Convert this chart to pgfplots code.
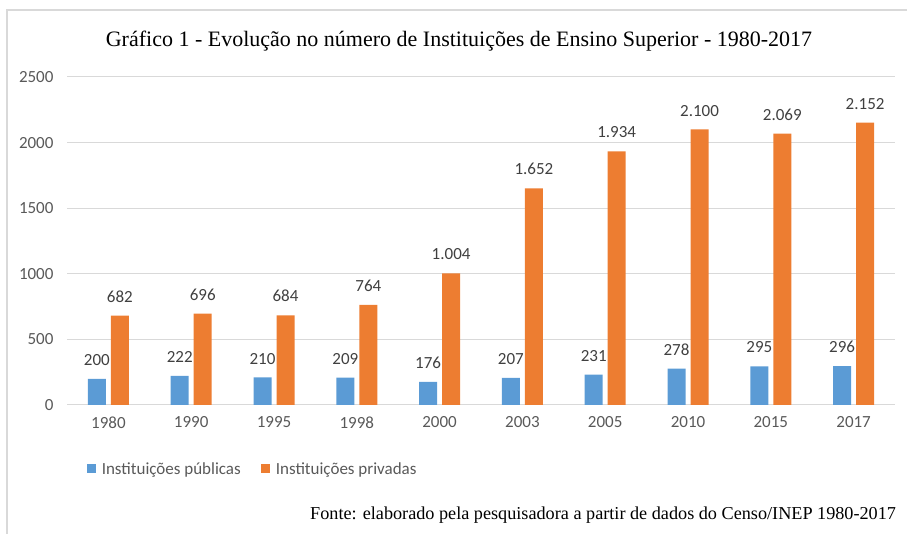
\documentclass[border=0pt]{standalone}
\usepackage{fontspec}
\setmainfont{Liberation Serif}
\newfontfamily\carlito{Carlito}
\usepackage{pgfplots}
\pgfplotsset{compat=1.18}

\definecolor{pubblue}{HTML}{5B9BD5}
\definecolor{privorange}{HTML}{ED7D31}
\definecolor{gridgray}{HTML}{D9D9D9}
\definecolor{ticktext}{HTML}{595959}
\definecolor{labeltext}{HTML}{404040}

\begin{document}
\begin{tikzpicture}[x=1pt,y=1pt]
  \path[use as bounding box] (0,0) rectangle (907,534);
  % outer frame (cropped at right and bottom)
  \draw[gridgray, line width=1.5pt] (7,-5) -- (7,524) -- (915,524);

  \begin{axis}[
      at={(67pt,129pt)}, anchor=south west,
      scale only axis,
      width=828pt, height=328pt,
      ybar,
      xmin=-0.5, xmax=9.5,
      ymin=0, ymax=2500,
      xtick={0,...,9},
      xticklabels={1980,1990,1995,1998,2000,2003,2005,2010,2015,2017},
      ytick={0,500,...,2500},
      ymajorgrids,
      grid style={gridgray, line width=1pt},
      axis line style={draw=none},
      major tick length=0pt,
      /pgf/number format/1000 sep={},
      /pgf/number format/assume math mode=true,
      tick label style={font=\carlito\fontsize{17}{20}\selectfont, text=ticktext},
      yticklabel style={xshift=-10pt},
      xticklabel style={yshift=-8pt, text depth=0pt},
      bar width=18pt,
      nodes near coords={\pgfmathprintnumber[1000 sep={.}]{\pgfplotspointmeta}},
      every node near coord/.append style={font=\carlito\fontsize{17}{20}\selectfont,
        text=labeltext, inner sep=0pt, anchor=south, yshift=13pt},
      legend columns=2,
      legend style={draw=none, fill=none, anchor=west,
        at={(axis description cs:0.02,-0.195)},
        font=\carlito\fontsize{17}{20}\selectfont, text=ticktext,
        /tikz/every even column/.append style={column sep=18pt}},
    ]
    \addplot[fill=pubblue, draw=none, bar shift=-11.5pt,
      legend image code/.code={\fill[pubblue] (0pt,-4.5pt) rectangle (9pt,4.5pt);
        \path (13pt,0pt);}]
      coordinates {(0,200) (1,222) (2,210) (3,209) (4,176) (5,207) (6,231) (7,278) (8,295) (9,296)};
    \addlegendentry{Instituições públicas}
    \addplot[fill=privorange, draw=none, bar shift=11.5pt,
      legend image code/.code={\fill[privorange] (0pt,-4.5pt) rectangle (9pt,4.5pt);
        \path (13pt,0pt);}]
      coordinates {(0,682) (1,696) (2,684) (3,764) (4,1004) (5,1652) (6,1934) (7,2100) (8,2069) (9,2152)};
    \addlegendentry{Instituições privadas}
  \end{axis}

  \node[font=\fontsize{22}{26}\selectfont] at (459,493)
    {Gráfico 1 - Evolução no número de Instituições de Ensino Superior - 1980-2017};
  \node[anchor=west, inner sep=0pt, font=\fontsize{18.2}{22}\selectfont] at (310,19)
    {Fonte: elaborado pela pesquisadora a partir de dados do Censo/INEP 1980-2017};
\end{tikzpicture}
\end{document}
